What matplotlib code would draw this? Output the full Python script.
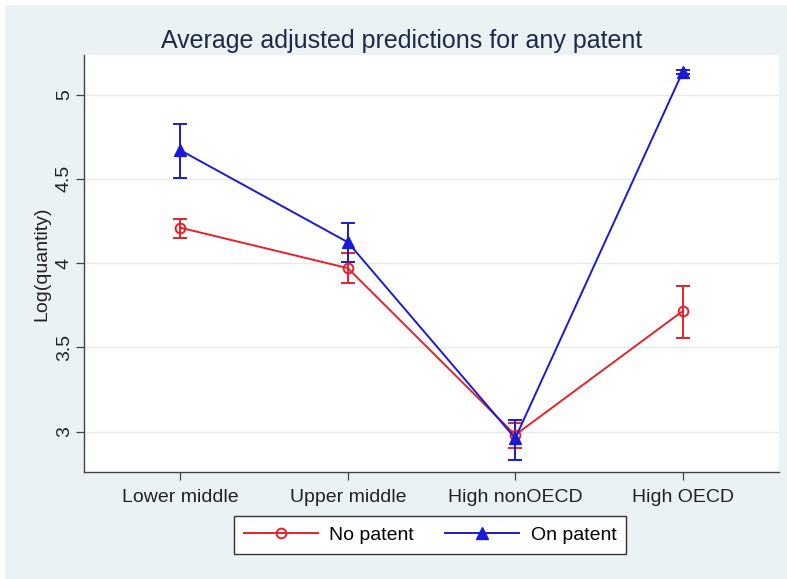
import matplotlib
matplotlib.use("Agg")
import matplotlib.pyplot as plt
from matplotlib.patches import Rectangle
import numpy as np

categories = ["Lower middle", "Upper middle", "High nonOECD", "High OECD"]
no_patent = [4.21, 3.97, 2.98, 3.715]
no_patent_lo = [4.148, 3.879, 2.90, 3.557]
no_patent_hi = [4.264, 4.058, 3.048, 3.863]
on_patent = [4.67, 4.124, 2.96, 5.135]
on_patent_lo = [4.504, 4.004, 2.83, 5.122]
on_patent_hi = [4.827, 4.237, 3.07, 5.148]
yticks = [3, 3.5, 4, 4.5, 5]
ytick_labels = ["3", "3.5", "4", "4.5", "5"]

plt.rcParams['font.family'] = ['Liberation Sans', 'DejaVu Sans']

W, H = 787, 579
fig = plt.figure(figsize=(W / 100, H / 100), dpi=100, facecolor="white")
bg = "#eaf2f3"
fig.patches.append(Rectangle((5 / W, 0), 1 - 5 / W, 1 - 5 / H, transform=fig.transFigure,
                             facecolor=bg, edgecolor="none", zorder=-10))

ax = fig.add_axes([84 / W, 1 - 472 / H, (779 - 84) / W, (472 - 55) / H])
ax.set_zorder(1)
ax.set_facecolor("white")

x = np.arange(1, len(categories) + 1)
red = "#e8202a"
blue = "#1a1ad6"

np_arr = np.array(no_patent)
op_arr = np.array(on_patent)
ax.errorbar(x, np_arr, yerr=[np_arr - np.array(no_patent_lo), np.array(no_patent_hi) - np_arr],
            fmt="none", ecolor=red, elinewidth=1.4, capsize=5, capthick=1.4, zorder=3)
ax.errorbar(x, op_arr, yerr=[op_arr - np.array(on_patent_lo), np.array(on_patent_hi) - op_arr],
            fmt="none", ecolor=blue, elinewidth=1.4, capsize=5, capthick=1.4, zorder=3)
ax.plot(x, np_arr, color=red, lw=1.4, marker="o", markersize=7, markerfacecolor="none",
        markeredgecolor=red, markeredgewidth=1.4, label="No patent", zorder=4)
ax.plot(x, op_arr, color=blue, lw=1.4, marker="^", markersize=8, markerfacecolor=blue,
        markeredgecolor=blue, label="On patent", zorder=4)

ax.set_xlim(0.425, 4.575)
ax.set_ylim(2.76, 5.235)
ax.set_xticks(x)
ax.set_xticklabels(categories, fontsize=14, color="#222222")
ax.set_yticks(yticks)
ax.set_yticklabels(ytick_labels, fontsize=14, color="#222222", rotation=90, va="center")
ax.grid(axis="y", color="#e6eced", lw=1.0)
ax.set_axisbelow(True)
for s in ["top", "right"]:
    ax.spines[s].set_visible(False)
for s in ["left", "bottom"]:
    ax.spines[s].set_color("#444444")
    ax.spines[s].set_linewidth(1.0)
ax.tick_params(axis="both", direction="out", length=6, width=0.9, color="#444444", pad=6)
ax.tick_params(axis="y", pad=2)
ax.set_ylabel("Log(quantity)", fontsize=14, color="#222222", labelpad=4)

fig.text(0.51, 1 - 41 / H, "Average adjusted predictions for any patent", ha="center", va="center",
         fontsize=18, color="#1e2a48")

leg = fig.legend(loc="center", bbox_to_anchor=(430 / W, 1 - 535 / H), ncol=2, fontsize=14,
                 frameon=True, fancybox=False, edgecolor="#333333", handlelength=3.8,
                 handletextpad=0.6, columnspacing=1.6, borderpad=0.5, framealpha=1.0)
leg.get_frame().set_linewidth(1.0)

fig.savefig("out.png", dpi=100, facecolor=fig.get_facecolor())
